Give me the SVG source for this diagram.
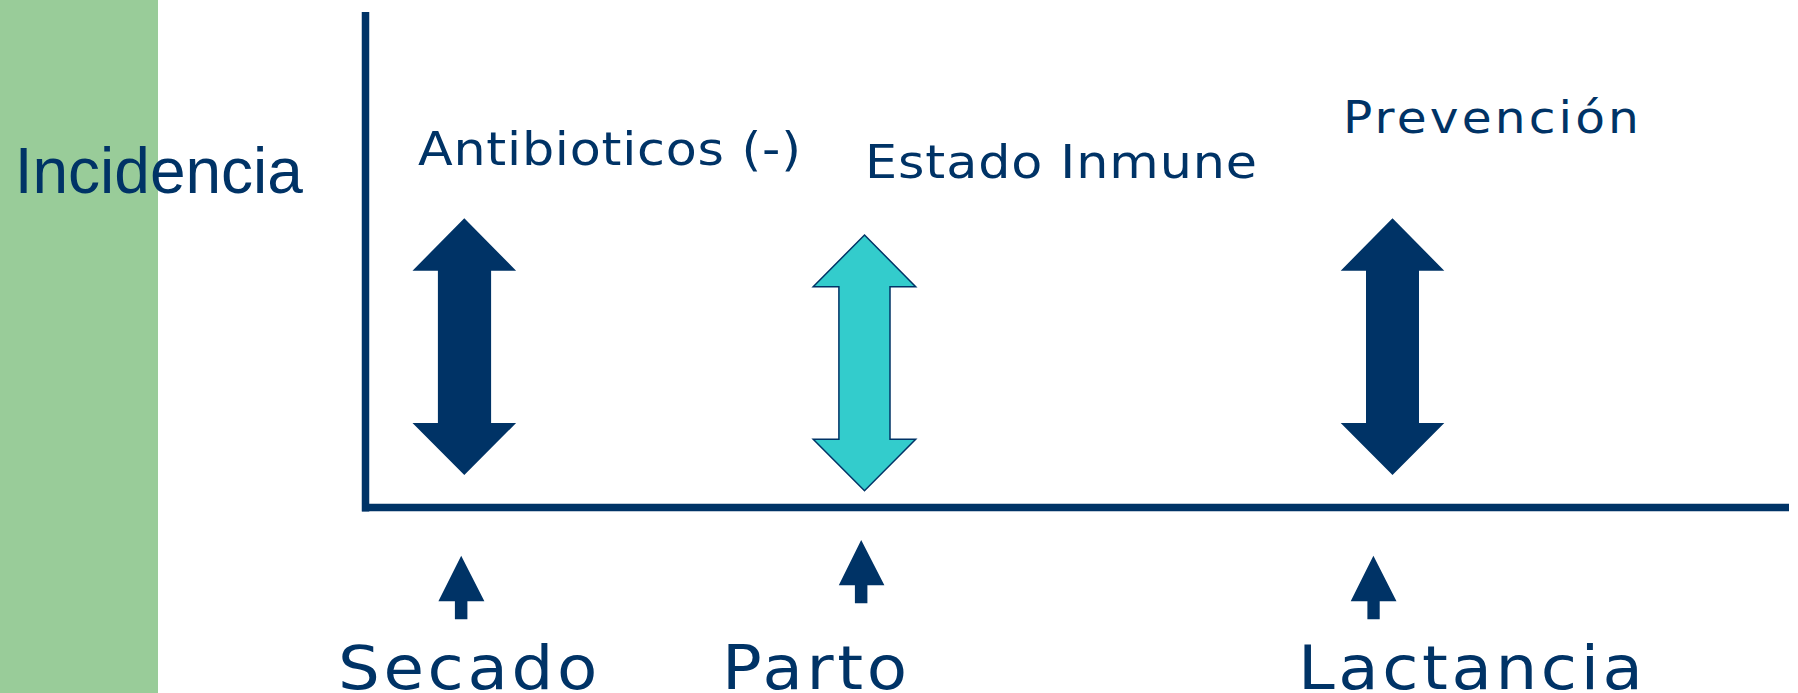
<svg xmlns="http://www.w3.org/2000/svg" width="1798" height="693" viewBox="0 0 1798 693">
<style>
  .t { font-family: "Liberation Sans", Arial, sans-serif; fill: #003366; }
  .w { font-family: "DejaVu Sans", Verdana, sans-serif; fill: #003366; }
  .dark { fill: #003366; }
  .cyan { fill: #33CCCC; stroke: #003366; stroke-width: 1.5; stroke-linejoin: miter; }
  .axis { stroke: #003366; stroke-width: 7.5; fill: none; }
</style>
<rect x="0" y="0" width="1798" height="693" fill="#ffffff"/>
<g id="band">
  <rect x="0" y="0" width="158" height="693" fill="#99CC99"/>
</g>
<g id="label-incidencia">
  <text class="t" x="14.7" y="193.3" font-size="64">Incidencia</text>
</g>
<g id="axes">
  <line class="axis" x1="365.5" y1="12" x2="365.5" y2="511.5"/>
  <line class="axis" x1="362" y1="507.5" x2="1789" y2="507.5"/>
</g>
<g id="node-antibioticos">
  <polygon class="dark" points="464.3,218.3 516.1,270.7 491.1,270.7 491.1,423 516.1,423 464.3,475 412.5,423 437.9,423 437.9,270.7 412.5,270.7"/>
  <text class="w" transform="translate(418 165.3) scale(1.08 1)" x="0" y="0" font-size="47" textLength="354.6" lengthAdjust="spacing">Antibioticos (-)</text>
</g>
<g id="node-estado-inmune">
  <polygon class="cyan" points="864.5,235 915.7,286.7 890,286.7 890,439.3 915.7,439.3 864.5,490.7 813.2,439.3 838.9,439.3 838.9,286.7 813.2,286.7"/>
  <text class="w" transform="translate(865 178.3) scale(1.08 1)" x="0" y="0" font-size="47" textLength="363" lengthAdjust="spacing">Estado Inmune</text>
</g>
<g id="node-prevencion">
  <polygon class="dark" points="1392.5,218.3 1444.3,270.7 1419,270.7 1419,423 1444.3,423 1392.5,475 1340.7,423 1366,423 1366,270.7 1340.7,270.7"/>
  <text class="w" transform="translate(1343 133.3) scale(1.08 1)" x="0" y="0" font-size="45" textLength="274" lengthAdjust="spacing">Prevención</text>
</g>
<g id="connectors">
  <polygon class="dark" points="461.2,555.7 484.4,601.3 467.4,601.3 467.4,619.3 454.9,619.3 454.9,601.3 438.4,601.3"/>
  <polygon class="dark" points="861.2,540 884.4,585.3 867.4,585.3 867.4,603.3 854.9,603.3 854.9,585.3 838.8,585.3"/>
  <polygon class="dark" points="1373.4,555.7 1396.5,601.3 1379.7,601.3 1379.7,619.3 1367.4,619.3 1367.4,601.3 1350.7,601.3"/>
</g>
<g id="node-secado">
  <text class="w" transform="translate(338 688.5) scale(1.08 1)" x="0" y="0" font-size="61" textLength="240" lengthAdjust="spacing">Secado</text>
</g>
<g id="node-parto">
  <text class="w" transform="translate(722 688.5) scale(1.08 1)" x="0" y="0" font-size="61" textLength="171.3" lengthAdjust="spacing">Parto</text>
</g>
<g id="node-lactancia">
  <text class="w" transform="translate(1298 688.5) scale(1.08 1)" x="0" y="0" font-size="61" textLength="319.4" lengthAdjust="spacing">Lactancia</text>
</g>
</svg>
